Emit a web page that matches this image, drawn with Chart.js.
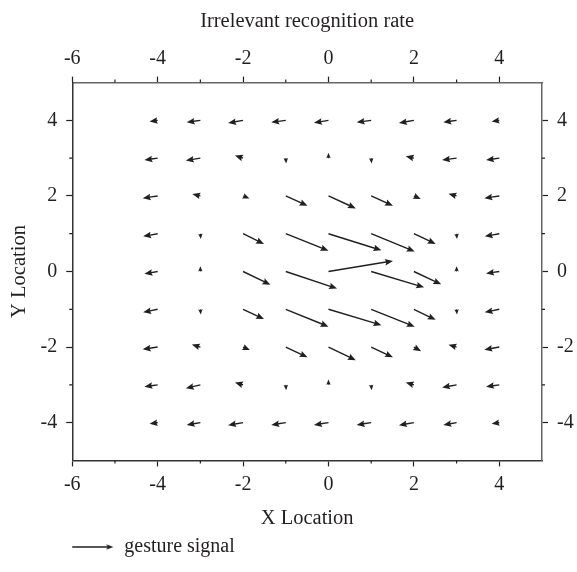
<!DOCTYPE html>
<html>
<head>
<meta charset="utf-8">
<script src="https://cdn.jsdelivr.net/npm/chart.js@4.4.0/dist/chart.umd.min.js"></script>
<style>
  html, body { margin: 0; padding: 0; background: #fff; }
  #wrap { width: 577px; height: 572px; }
</style>
</head>
<body>
<div id="wrap"><canvas id="quiver"></canvas></div>
<script>
// grid of arrow tails
const xGrid = [-4, -3, -2, -1, 0, 1, 2, 3, 4];
const yGrid = [4, 3, 2, 1, 0, -1, -2, -3, -4];

// x component of each arrow, one row per yGrid value
const uRows = [
  [-0.19, -0.32, -0.35, -0.34, -0.34, -0.34, -0.35, -0.31, -0.18],
  [-0.31, -0.34, -0.19,  0.01,  0.00,  0.01, -0.19, -0.34, -0.31],
  [-0.35, -0.19,  0.15,  0.51,  0.64,  0.51,  0.16, -0.19, -0.35],
  [-0.34,  0.01,  0.49,  1.00,  1.24,  1.02,  0.51,  0.01, -0.34],
  [-0.31,  0.00,  0.64,  1.20,  1.51,  1.24,  0.64,  0.00, -0.31],
  [-0.34,  0.01,  0.49,  1.00,  1.24,  1.02,  0.51,  0.01, -0.34],
  [-0.35, -0.20,  0.16,  0.51,  0.64,  0.51,  0.17, -0.19, -0.35],
  [-0.31, -0.34, -0.19,  0.01,  0.00,  0.01, -0.19, -0.34, -0.31],
  [-0.19, -0.32, -0.35, -0.34, -0.34, -0.34, -0.35, -0.31, -0.18]
];
// y component of each arrow
const vRows = [
  [-0.03, -0.05, -0.07, -0.05, -0.06, -0.05, -0.07, -0.05, -0.03],
  [-0.05, -0.06,  0.07, -0.14,  0.14, -0.14,  0.05, -0.05, -0.05],
  [-0.06,  0.05, -0.07, -0.26, -0.33, -0.26, -0.08,  0.06, -0.06],
  [-0.07, -0.14, -0.27, -0.45, -0.44, -0.47, -0.27, -0.14, -0.07],
  [-0.06,  0.14, -0.35, -0.45,  0.28, -0.42, -0.34,  0.14, -0.05],
  [-0.08, -0.14, -0.26, -0.46, -0.42, -0.46, -0.28, -0.14, -0.08],
  [-0.06,  0.07, -0.08, -0.27, -0.35, -0.27, -0.11,  0.06, -0.07],
  [-0.05, -0.09,  0.06, -0.14,  0.14, -0.14,  0.06, -0.07, -0.05],
  [-0.03, -0.06, -0.07, -0.06, -0.06, -0.06, -0.07, -0.06, -0.03]
];

const xTicks = [-6, -4, -2, 0, 2, 4];
const yTicks = [-4, -2, 0, 2, 4];
const xMinor = [-5, -3, -1, 1, 3];
const yMinor = [-3, -1, 1, 3];

const ink = '#231f20';
const serif = "'Liberation Serif', 'DejaVu Serif', serif";

const points = [];
yGrid.forEach((yv, r) => {
  xGrid.forEach((xv, c) => {
    points.push({ x: xv, y: yv, u: uRows[r][c], v: vRows[r][c] });
  });
});

// quiver-like arrow: shaft + notched head, shrunk when shorter than the head
function drawArrow(ctx, x0, y0, x1, y1) {
  const dx = x1 - x0, dy = y1 - y0;
  const len = Math.hypot(dx, dy);
  if (len < 0.5) return;
  const sw = 1.4, hl = 8, hal = 7, hw = 3.3;
  let k = 1, L = len;
  if (len < hl) { k = len / hl; L = hl; }
  ctx.save();
  ctx.translate(x0, y0);
  ctx.rotate(Math.atan2(dy, dx));
  ctx.scale(k, k);
  ctx.beginPath();
  ctx.moveTo(0, -sw / 2);
  ctx.lineTo(L - hal, -sw / 2);
  ctx.lineTo(L - hl, -hw);
  ctx.lineTo(L, 0);
  ctx.lineTo(L - hl, hw);
  ctx.lineTo(L - hal, sw / 2);
  ctx.lineTo(0, sw / 2);
  ctx.closePath();
  ctx.fill();
  ctx.restore();
}

function arrowIcon() {
  const c = document.createElement('canvas');
  c.width = 42; c.height = 8;
  const g = c.getContext('2d');
  g.fillStyle = ink;
  g.fillRect(0, 3.25, 36, 1.5);
  g.beginPath();
  g.moveTo(41, 4); g.lineTo(34, 1.3); g.lineTo(35.5, 4); g.lineTo(34, 6.7);
  g.closePath();
  g.fill();
  return c;
}

const quiverPlugin = {
  id: 'quiver',
  afterDatasetsDraw(chart) {
    const { ctx, chartArea: a } = chart;
    const xs = chart.scales.x, ys = chart.scales.y;
    ctx.save();
    ctx.beginPath();
    ctx.rect(a.left, a.top, a.right - a.left, a.bottom - a.top);
    ctx.clip();
    ctx.fillStyle = ink;
    chart.data.datasets[0].data.forEach(p => {
      drawArrow(ctx,
        xs.getPixelForValue(p.x), ys.getPixelForValue(p.y),
        xs.getPixelForValue(p.x + p.u), ys.getPixelForValue(p.y + p.v));
    });
    ctx.restore();
  }
};

// short ticks at the odd values
const minorTicks = {
  id: 'minorTicks',
  afterDraw(chart) {
    const { ctx, chartArea: a, scales } = chart;
    ctx.save();
    ctx.strokeStyle = ink;
    ctx.lineWidth = 1.2;
    ctx.beginPath();
    xMinor.forEach(v => {
      const px = scales.x.getPixelForValue(v);
      ctx.moveTo(px, a.bottom); ctx.lineTo(px, a.bottom + 3);
      ctx.moveTo(px, a.top); ctx.lineTo(px, a.top - 3);
    });
    yMinor.forEach(v => {
      const py = scales.y.getPixelForValue(v);
      ctx.moveTo(a.left, py); ctx.lineTo(a.left - 3, py);
      ctx.moveTo(a.right, py); ctx.lineTo(a.right + 3, py);
    });
    ctx.stroke();
    ctx.restore();
  }
};

function axis(position, min, max, ticks, title, borderColor, tickPad, titlePad) {
  return {
    type: 'linear',
    position,
    min, max,
    afterBuildTicks: s => { s.ticks = ticks.map(v => ({ value: v })); },
    ticks: { color: ink, font: { family: serif, size: 20 }, padding: tickPad },
    grid: { drawOnChartArea: false, tickLength: 6, tickColor: ink, tickWidth: 1.2 },
    border: { color: borderColor, width: 1.5 },
    title: {
      display: !!title,
      text: title,
      color: ink,
      font: { family: serif, size: 20.5 },
      padding: titlePad
    }
  };
}

const rightAxis = axis('right', -5, 5, yTicks, '', '#666', 9, 0);
rightAxis.afterFit = s => { s.width = 35; };

new Chart(document.getElementById('quiver'), {
  type: 'scatter',
  data: {
    datasets: [{
      label: 'gesture signal',
      data: points,
      pointRadius: 0,
      pointHoverRadius: 0,
      pointStyle: arrowIcon(),
      showLine: false
    }]
  },
  options: {
    responsive: true,
    maintainAspectRatio: false,
    animation: false,
    devicePixelRatio: 1,
    layout: { padding: { left: 5, right: 0, top: 7, bottom: 5 } },
    scales: {
      x: axis('bottom', -6, 5, xTicks, 'X Location', '#333', 6, { top: 4, bottom: 6 }),
      x2: axis('top', -6, 5, xTicks, 'Irrelevant recognition rate', '#666', 6, { top: 2, bottom: 7 }),
      y: axis('left', -5, 5, yTicks, 'Y Location', '#333', 9, { top: 2, bottom: 0 }),
      y2: rightAxis
    },
    plugins: {
      tooltip: { enabled: false },
      legend: {
        position: 'bottom',
        align: 'start',
        fullSize: false,
        labels: {
          usePointStyle: true,
          pointStyleWidth: 42,
          padding: 0,
          color: ink,
          font: { family: serif, size: 20 }
        }
      }
    }
  },
  plugins: [quiverPlugin, minorTicks]
});
</script>
</body>
</html>
